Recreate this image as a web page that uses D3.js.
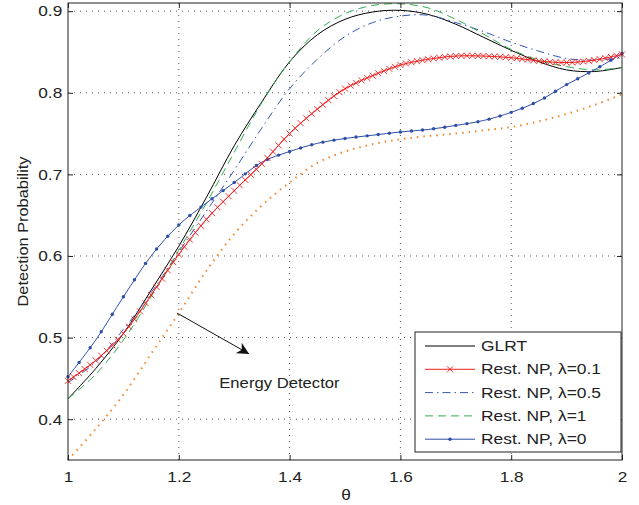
<!DOCTYPE html>
<html>
<head>
<meta charset="utf-8">
<script src="https://cdn.jsdelivr.net/npm/d3@7"></script>
<style>
  body { margin: 0; background: #fff; }
  svg { font-family: "Liberation Sans", Arial, sans-serif; }
</style>
</head>
<body>
<div id="chart"></div>
<script>
// theta values (x axis)
const theta = [1.00, 1.05, 1.10, 1.15, 1.20, 1.25, 1.30, 1.35, 1.40, 1.45, 1.50,
               1.55, 1.60, 1.65, 1.70, 1.75, 1.80, 1.85, 1.90, 1.95, 2.00];

// series
const glrt     = [0.425, 0.462, 0.505, 0.558, 0.612, 0.672, 0.735, 0.789, 0.838, 0.871, 0.890,
                  0.899, 0.901, 0.896, 0.884, 0.868, 0.852, 0.838, 0.828, 0.826, 0.831];
const npL01    = [0.447, 0.472, 0.505, 0.552, 0.602, 0.645, 0.680, 0.713, 0.750, 0.780, 0.805,
                  0.821, 0.834, 0.841, 0.845, 0.845, 0.843, 0.839, 0.837, 0.840, 0.847];
const npL05    = [0.445, 0.470, 0.510, 0.555, 0.605, 0.655, 0.705, 0.757, 0.805, 0.841, 0.869,
                  0.886, 0.894, 0.895, 0.886, 0.875, 0.862, 0.851, 0.842, 0.840, 0.843];
const npL1     = [0.425, 0.455, 0.497, 0.550, 0.607, 0.665, 0.727, 0.788, 0.838, 0.876, 0.897,
                  0.907, 0.909, 0.904, 0.890, 0.872, 0.853, 0.840, 0.832, 0.828, 0.831];
const npL0     = [0.452, 0.497, 0.550, 0.600, 0.638, 0.665, 0.690, 0.715, 0.728, 0.738, 0.744,
                  0.748, 0.752, 0.755, 0.760, 0.766, 0.776, 0.790, 0.810, 0.828, 0.848];
const energy   = [0.350, 0.388, 0.430, 0.480, 0.530, 0.582, 0.627, 0.662, 0.690, 0.714, 0.728,
                  0.737, 0.743, 0.747, 0.750, 0.754, 0.758, 0.765, 0.774, 0.785, 0.798];

const xTicks = [1, 1.2, 1.4, 1.6, 1.8, 2];
const yTicks = [0.4, 0.5, 0.6, 0.7, 0.8, 0.9];

// Set dimensions and margins
const W = 639, H = 505;
const margin = { top: 3, right: 17, bottom: 45, left: 68 },
    width = W - margin.left - margin.right,
    height = H - margin.top - margin.bottom;

const svg = d3.select("#chart").append("svg")
    .attr("width", W).attr("height", H);

const g = svg.append("g")
    .attr("transform", `translate(${margin.left},${margin.top})`);

// Scales
const x = d3.scaleLinear().domain([1, 2]).range([0, width]);
const y = d3.scaleLinear().domain([0.35, 0.91]).range([height, 0]);

// Grid (dotted)
g.selectAll(".vgrid").data(xTicks.slice(1, -1)).enter().append("line")
    .attr("x1", d => x(d)).attr("x2", d => x(d))
    .attr("y1", 0).attr("y2", height)
    .attr("stroke", "#555").attr("stroke-width", 1)
    .attr("stroke-dasharray", "1,5");
g.selectAll(".hgrid").data(yTicks).enter().append("line")
    .attr("x1", 0).attr("x2", width)
    .attr("y1", d => y(d)).attr("y2", d => y(d))
    .attr("stroke", "#555").attr("stroke-width", 1)
    .attr("stroke-dasharray", "1,5");

// Line generator
const line = d3.line()
    .x(d => x(d[0]))
    .y(d => y(d[1]))
    .curve(d3.curveCatmullRom.alpha(0.5));

const series = [
    { name: "Energy", values: energy, color: "#f0872a", width: 2, dash: "1.5,5" },
    { name: "GLRT", values: glrt, color: "#000", width: 1, dash: null },
    { name: "Rest. NP, λ=0.5", values: npL05, color: "#3556b0", width: 1, dash: "8,4,1.5,4" },
    { name: "Rest. NP, λ=1", values: npL1, color: "#2fae4e", width: 1, dash: "8,5" },
    { name: "Rest. NP, λ=0", values: npL0, color: "#2e4ea8", width: 1, dash: null, marker: "dot", step: 0.02 },
    { name: "Rest. NP, λ=0.1", values: npL01, color: "#f21d1d", width: 1, dash: null, marker: "x", step: 0.01 }
];

const plot = g.append("g");

series.forEach(s => {
    const pts = theta.map((t, i) => [t, s.values[i]]);
    const path = plot.append("path")
        .datum(pts)
        .attr("fill", "none")
        .attr("stroke", s.color)
        .attr("stroke-width", s.width)
        .attr("stroke-dasharray", s.dash)
        .attr("d", line);

    if (s.marker) {
        // place markers on the drawn curve at regular theta steps
        const node = path.node();
        const total = node.getTotalLength();
        const n = Math.round(1 / s.step);
        const marks = [];
        for (let k = 0; k <= n; k++) {
            const tx = x(1 + k * s.step);
            let lo = 0, hi = total;
            for (let it = 0; it < 30; it++) {
                const mid = (lo + hi) / 2;
                if (node.getPointAtLength(mid).x < tx) lo = mid; else hi = mid;
            }
            const p = node.getPointAtLength((lo + hi) / 2);
            marks.push([p.x, p.y]);
        }
        if (s.marker === "dot") {
            plot.selectAll(null).data(marks).enter().append("circle")
                .attr("cx", d => d[0]).attr("cy", d => d[1])
                .attr("r", 1.7).attr("fill", s.color);
        } else {
            const sz = 3;
            plot.selectAll(null).data(marks).enter().append("path")
                .attr("d", d => `M${d[0]-sz},${d[1]-sz}L${d[0]+sz},${d[1]+sz}M${d[0]-sz},${d[1]+sz}L${d[0]+sz},${d[1]-sz}`)
                .attr("stroke", s.color).attr("stroke-width", 0.9);
        }
    }
});

// Axes box
g.append("rect")
    .attr("width", width).attr("height", height)
    .attr("fill", "none").attr("stroke", "#222").attr("stroke-width", 1);

// Axes with inward ticks
const xAxis = d3.axisBottom(x).tickValues(xTicks).tickSize(-5).tickPadding(11)
    .tickFormat(d3.format("~g"));
const yAxis = d3.axisLeft(y).tickValues(yTicks).tickSize(-5).tickPadding(5)
    .tickFormat(d3.format(".1f"));

const gx = g.append("g").attr("transform", `translate(0,${height})`).call(xAxis);
const gy = g.append("g").call(yAxis);
g.append("g").call(d3.axisTop(x).tickValues(xTicks).tickSize(-5).tickFormat(""));
g.append("g").attr("transform", `translate(${width},0)`)
    .call(d3.axisRight(y).tickValues(yTicks).tickSize(-5).tickFormat(""));

g.selectAll(".domain").remove();
g.selectAll(".tick line").attr("stroke", "#222");
// reference glyphs are wider than tall: scale labels horizontally
[gx, gy].forEach(a => a.selectAll("text")
    .style("font-size", "15px")
    .style("font-family", "Liberation Sans, Arial, sans-serif")
    .attr("fill", "#222")
    .attr("transform", "scale(1.15,1)"));

// Axis labels
svg.append("text")
    .attr("transform", `translate(${margin.left + width / 2 + 1},500) scale(1.15,1)`)
    .attr("text-anchor", "middle")
    .style("font-size", "15px")
    .attr("fill", "#222")
    .text("θ");

svg.append("text")
    .attr("transform", `translate(28,${margin.top + height / 2}) rotate(-90) scale(1.17,1)`)
    .attr("text-anchor", "middle")
    .style("font-size", "14px")
    .attr("fill", "#222")
    .text("Detection Probability");

// Annotation arrow
const ax1 = x(1.197), ay1 = y(0.530);
const ax2 = x(1.327), ay2 = y(0.480);
svg.append("defs").append("marker")
    .attr("id", "arrowhead")
    .attr("viewBox", "0 0 10 10")
    .attr("refX", 10).attr("refY", 5)
    .attr("markerWidth", 16).attr("markerHeight", 12)
    .attr("markerUnits", "userSpaceOnUse")
    .attr("orient", "auto")
    .append("path")
    .attr("d", "M0,0 L10,5 L0,10 L3,5 Z")
    .attr("fill", "#111");

g.append("line")
    .attr("x1", ax1).attr("y1", ay1)
    .attr("x2", ax2).attr("y2", ay2)
    .attr("stroke", "#111").attr("stroke-width", 1)
    .attr("marker-end", "url(#arrowhead)");

g.append("text")
    .attr("transform", `translate(${x(1.273)},${y(0.438)}) scale(1.15,1)`)
    .style("font-size", "14.5px")
    .attr("fill", "#222")
    .text("Energy Detector");

// Legend
const legendItems = [
    { name: "GLRT", color: "#000", dash: null },
    { name: "Rest. NP, λ=0.1", color: "#f21d1d", dash: null, marker: "x" },
    { name: "Rest. NP, λ=0.5", color: "#3556b0", dash: "8,4,1.5,4" },
    { name: "Rest. NP, λ=1", color: "#2fae4e", dash: "8,5" },
    { name: "Rest. NP, λ=0", color: "#2e4ea8", dash: null, marker: "dot" }
];

const legend = svg.append("g").attr("transform", "translate(415,332)");
legend.append("rect")
    .attr("width", 206).attr("height", 120)
    .attr("fill", "#fff").attr("stroke", "#222").attr("stroke-width", 1);

legendItems.forEach((d, i) => {
    const ly = 14 + i * 23.3;
    legend.append("line")
        .attr("x1", 10).attr("x2", 60)
        .attr("y1", ly).attr("y2", ly)
        .attr("stroke", d.color).attr("stroke-width", 1)
        .attr("stroke-dasharray", d.dash);
    if (d.marker === "x") {
        legend.append("path")
            .attr("d", `M32,${ly-3}L38,${ly+3}M32,${ly+3}L38,${ly-3}`)
            .attr("stroke", d.color).attr("stroke-width", 0.9);
    } else if (d.marker === "dot") {
        legend.append("circle").attr("cx", 35).attr("cy", ly).attr("r", 1.7).attr("fill", d.color);
    }
    legend.append("text")
        .attr("transform", `translate(66,${ly + 5}) scale(1.2,1)`)
        .style("font-size", "14.5px")
        .attr("fill", "#222")
        .text(d.name);
});
</script>
</body>
</html>
